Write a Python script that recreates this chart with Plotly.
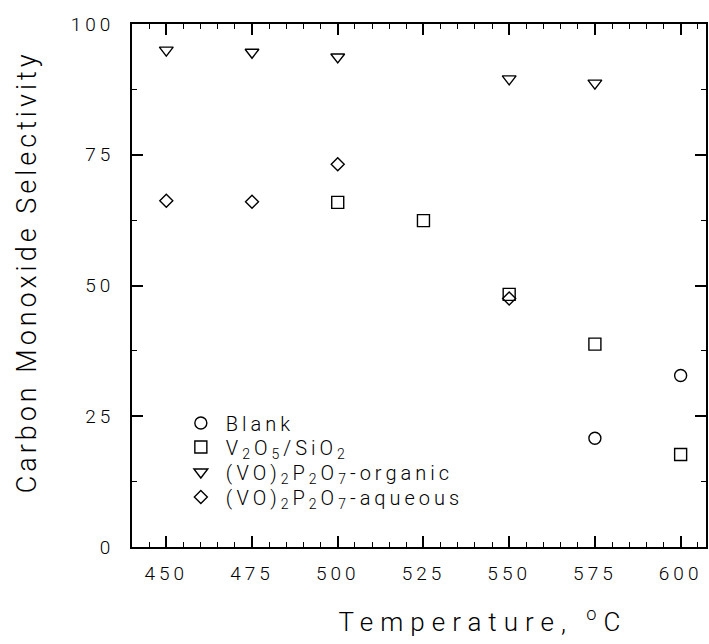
import plotly.graph_objects as go

# ---- data ----
temp_blank = [575, 600]
co_blank = [20.8, 32.8]

temp_v2o5 = [500, 525, 550, 575, 600]
co_v2o5 = [65.9, 62.4, 48.3, 38.8, 17.7]

temp_organic = [450, 475, 500, 550, 575]
co_organic = [95.0, 94.6, 93.7, 89.5, 88.7]

temp_aqueous = [450, 475, 500, 550]
co_aqueous = [66.2, 66.0, 73.2, 47.5]

x_ticks = [450, 475, 500, 525, 550, 575, 600]
y_ticks = [0, 25, 50, 75, 100]

names = ["Blank",
         "V<sub>2</sub>O<sub>5</sub>/SiO<sub>2</sub>",
         "(VO)<sub>2</sub>P<sub>2</sub>O<sub>7</sub>-organic",
         "(VO)<sub>2</sub>P<sub>2</sub>O<sub>7</sub>-aqueous"]

FONT = "Roboto, Liberation Sans, sans-serif"
INK = "#000000"

# plot-area geometry in pixels
L, R, T, B = 132, 708, 24, 547
W, H = R - L, B - T

fig = go.Figure()
series = [
    (temp_blank, co_blank, "circle-open", 12),
    (temp_v2o5, co_v2o5, "square-open", 12),
    (temp_organic, co_organic, "triangle-down-open", 12),
    (temp_aqueous, co_aqueous, "diamond-open", 10),
]
legend_ids = ["legend", "legend2", "legend3", "legend4"]
legend_rows_px = [423, 447, 472, 497]

for (xs, ys, sym, sz), nm, lg in zip(series, names, legend_ids):
    fig.add_trace(go.Scatter(
        x=xs, y=ys, mode="markers", name=nm, legend=lg,
        marker=dict(symbol=sym, size=sz, color=INK, line=dict(width=1.4, color=INK)),
    ))

# invisible trace on the mirrored (top/right) axes so their ticks are drawn
fig.add_trace(go.Scatter(
    x=temp_v2o5, y=co_v2o5, xaxis="x2", yaxis="y2", mode="markers",
    marker=dict(opacity=0), showlegend=False, hoverinfo="skip",
))

axis_common = dict(
    showline=True, linecolor=INK, linewidth=1.6, mirror=True,
    ticks="inside", ticklen=11, tickwidth=1.6, tickcolor=INK,
    showgrid=False, zeroline=False,
    tickfont=dict(family=FONT, size=19, color=INK, weight=300),
)

x_minor = dict(dtick=5, tick0=440, ticklen=5, tickwidth=1.2, tickcolor=INK, ticks="inside")
y_minor = dict(dtick=12.5, tick0=0, ticklen=5, tickwidth=1.2, tickcolor=INK, ticks="inside")

legend_font = dict(family=FONT, size=20, color=INK, weight=300)
legends = {}
for lg, ypx in zip(legend_ids, legend_rows_px):
    legends[lg] = dict(
        x=(176 - L) / W, y=(B - ypx) / H, xanchor="left", yanchor="middle",
        bgcolor="rgba(0,0,0,0)", borderwidth=0, font=legend_font,
        itemwidth=40, tracegroupgap=0,
    )

fig.update_layout(
    width=709, height=644,
    margin=dict(l=L, r=709 - R, t=T, b=644 - B),
    paper_bgcolor="white", plot_bgcolor="white",
    showlegend=True,
    xaxis=dict(
        range=[440, 607.4], tickvals=x_ticks, ticktext=[str(v) for v in x_ticks],
        ticklabelstandoff=8, minor=x_minor, **axis_common,
    ),
    yaxis=dict(
        range=[0, 100], tickvals=y_ticks, ticktext=[str(v) for v in y_ticks],
        ticklabelstandoff=12, minor=y_minor, **axis_common,
    ),
    xaxis2=dict(
        overlaying="x", side="top", anchor="y", range=[440, 607.4], tickvals=x_ticks,
        showticklabels=False, ticks="inside", ticklen=11, tickwidth=1.6, tickcolor=INK,
        minor=x_minor, showline=False, showgrid=False, zeroline=False,
    ),
    yaxis2=dict(
        overlaying="y", side="right", anchor="x", range=[0, 100], tickvals=y_ticks,
        showticklabels=False, ticks="inside", ticklen=11, tickwidth=1.6, tickcolor=INK,
        minor=y_minor, showline=False, showgrid=False, zeroline=False,
    ),
    annotations=[
        dict(text="Temperature, <sup>o</sup>C", xref="paper", yref="paper",
             x=(484 - L) / W, y=(B - 620) / H, xanchor="center", yanchor="middle",
             showarrow=False, font=dict(family=FONT, size=26, color=INK, weight=300)),
        dict(text="Carbon Monoxide Selectivity", xref="paper", yref="paper",
             x=(27 - L) / W, y=(B - 272) / H, xanchor="center", yanchor="middle",
             textangle=-90, showarrow=False,
             font=dict(family=FONT, size=27, color=INK, weight=300)),
    ],
    **legends,
)

post = """
var css = document.createElement('style');
css.textContent =
  'svg text, svg tspan { letter-spacing: 4px !important; }' +
  '[class*="legend"] text, [class*="legend"] tspan { letter-spacing: 4px !important; }' +
  '.scrollbox { clip-path: none !important; }' +
  'g.annotation[data-index="0"] text, g.annotation[data-index="0"] tspan { letter-spacing: 7px !important; }';
document.head.appendChild(css);
"""

fig.write_html("out.html", post_script=post)
